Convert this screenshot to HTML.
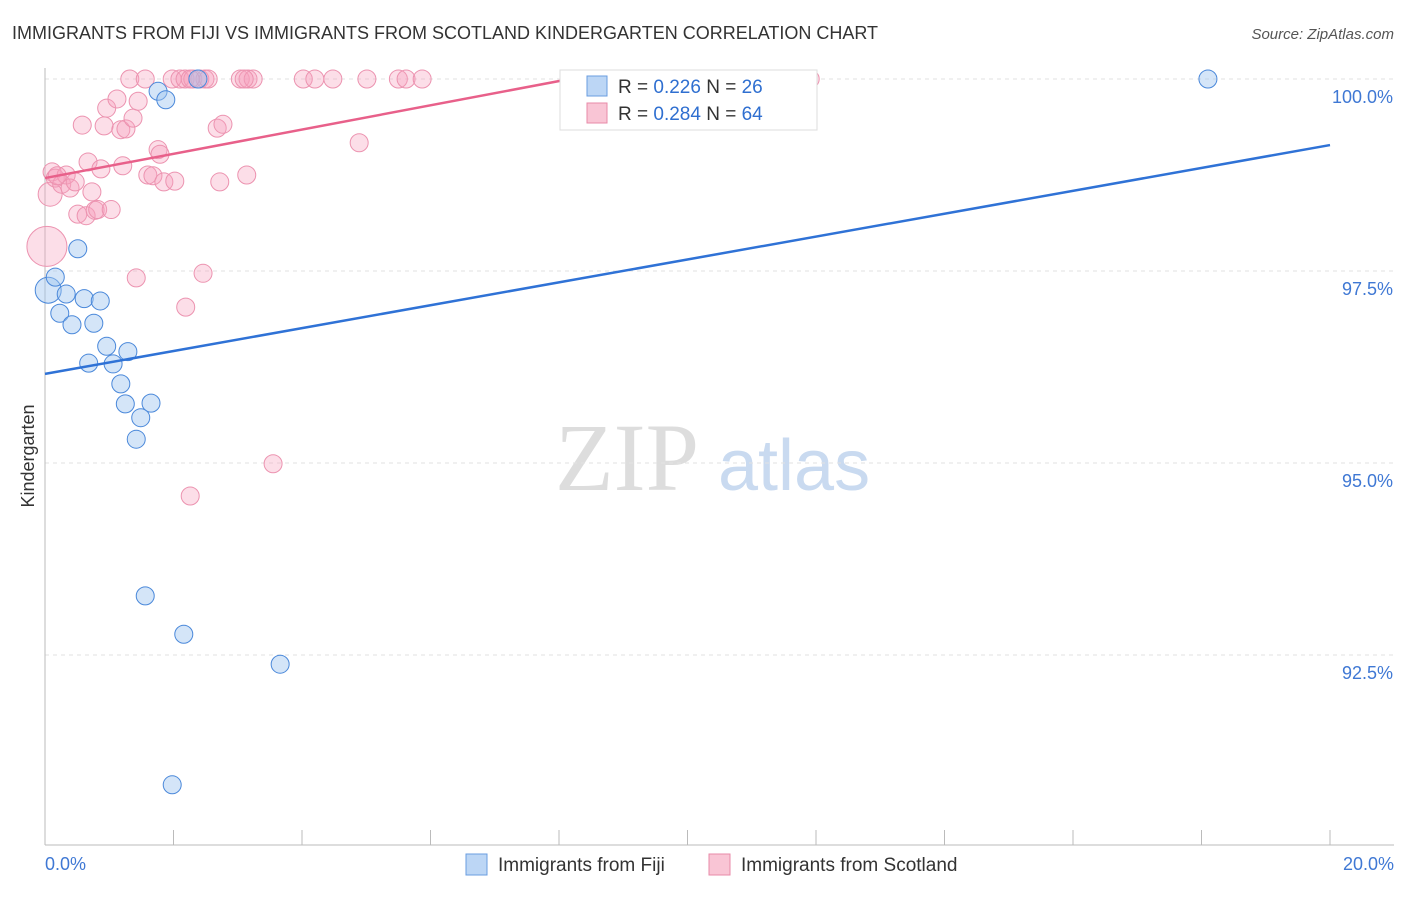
<!DOCTYPE html>
<html><head><meta charset="utf-8"><style>
body{margin:0;background:#fff;font-family:"Liberation Sans",sans-serif;}
</style></head><body>
<svg width="1406" height="892" xmlns="http://www.w3.org/2000/svg" id="chart">
<text x="12" y="39" font-size="18" fill="#333">IMMIGRANTS FROM FIJI VS IMMIGRANTS FROM SCOTLAND KINDERGARTEN CORRELATION CHART</text>
<text x="1394" y="39" font-size="15" fill="#555" font-style="italic" text-anchor="end">Source: ZipAtlas.com</text>
<text x="555" y="490" font-size="96" fill="#ddd" font-family="Liberation Serif">ZIP</text>
<text x="718" y="490" font-size="72" fill="#c9daf0">atlas</text>
<text x="34" y="456" font-size="18" fill="#333" transform="rotate(-90 34 456)" text-anchor="middle">Kindergarten</text>
<g id="grid"></g><g id="ticks"></g><g id="pts"></g><g id="lines"></g>
<g>
<rect x="560" y="70" width="257" height="60" fill="#fff" stroke="#ddd"/>
<rect x="587" y="76" width="20" height="20" fill="#bcd6f5" stroke="#6a9de0"/>
<rect x="587" y="103" width="20" height="20" fill="#f9c5d5" stroke="#e88aa8"/>
<text x="618" y="93" font-size="19" fill="#333">R = <tspan fill="#2f6fd0">0.226</tspan>   N = <tspan fill="#2f6fd0">26</tspan></text>
<text x="618" y="120" font-size="19" fill="#333">R = <tspan fill="#2f6fd0">0.284</tspan>   N = <tspan fill="#2f6fd0">64</tspan></text>
</g>
<g>
<rect x="466" y="854" width="21" height="21" fill="#bcd6f5" stroke="#6a9de0"/>
<text x="498" y="871" font-size="19" fill="#333">Immigrants from Fiji</text>
<rect x="709" y="854" width="21" height="21" fill="#f9c5d5" stroke="#e88aa8"/>
<text x="741" y="871" font-size="19" fill="#333">Immigrants from Scotland</text>
</g>
</svg>
<script>
const fijiX=[0.05,0.16,0.23,0.33,0.42,0.61,0.76,0.86,0.51,0.68,0.96,1.06,1.29,1.18,1.25,1.65,1.49,1.42,1.76,1.88,2.38,1.56,2.16,3.66,1.98,18.10];
const fijiY=[97.25,97.42,96.95,97.20,96.80,97.14,96.82,97.11,97.79,96.30,96.52,96.29,96.45,96.03,95.77,95.78,95.59,95.31,99.84,99.73,100,93.27,92.77,92.38,90.81,100];
const fijiR=[13,9,9,9,9,9,9,9,9,9,9,9,9,9,9,9,9,9,9,9,9,9,9,9,9,9];
const scotX=[1.32,1.56,1.98,2.10,2.18,2.30,2.41,2.49,2.54,3.04,3.16,3.24,4.02,4.20,4.48,5.01,5.50,5.62,5.87,11.91,2.26,3.10,
0.08,0.11,0.16,0.26,0.33,0.39,0.47,0.19,0.51,0.64,0.73,0.78,0.82,1.03,0.58,0.67,0.87,0.92,0.96,1.12,1.18,1.26,1.37,1.45,1.21,1.60,1.68,1.76,1.79,1.85,2.02,2.19,2.46,1.42,2.26,2.68,2.77,2.72,3.14,3.55,4.89,0.03];
const scotY=[100,100,100,100,100,100,100,100,100,100,100,100,100,100,100,100,100,100,100,100,100,100,
98.50,98.79,98.71,98.63,98.75,98.58,98.66,98.74,98.24,98.22,98.53,98.29,98.30,98.30,99.40,98.92,98.83,99.39,99.62,99.74,99.34,99.35,99.49,99.71,98.87,98.75,98.74,99.08,99.02,98.66,98.67,97.03,97.47,97.41,94.57,99.36,99.41,98.66,98.75,94.99,99.17,97.82];
const scotR=[9,9,9,9,9,9,9,9,9,9,9,9,9,9,9,9,9,9,9,9,9,9,12,9,9,9,9,9,9,9,9,9,9,9,9,9,9,9,9,9,9,9,9,9,9,9,9,9,9,9,9,9,9,9,9,9,9,9,9,9,9,9,9,20];
const yTicks=[100,97.5,95,92.5];
const yTickLabels=["100.0%","97.5%","95.0%","92.5%"];
const xTickLabels=["0.0%","20.0%"];
const fijiLine=[96.16,99.14];
const scotLine=[98.71,100];
const scotLineEnd=8.17;
const X=v=>45+v/20*1285, Y=v=>79+(100-v)*76.8;
const NS="http://www.w3.org/2000/svg";
function mk(t,a,p){const e=document.createElementNS(NS,t);for(const k in a)e.setAttribute(k,a[k]);document.getElementById(p).appendChild(e);return e;}
yTicks.forEach((t,i)=>{
 const g=mk('line',{x1:45,x2:1394,y1:Y(t),y2:Y(t),stroke:'#e2e2e2','stroke-dasharray':'4,4'},'grid');
 
 
 const l=mk('text',{x:1393,y:Y(t)+24,'font-size':18,fill:'#3f78d4','text-anchor':'end'},'ticks');l.textContent=yTickLabels[i];
 
 
});
const ax=mk('line',{x1:45,x2:45,y1:68,y2:845,stroke:'#bbb'},'ticks');


const bx=mk('line',{x1:45,x2:1394,y1:845,y2:845,stroke:'#bbb'},'ticks');


for(let i=0;i<=10;i++){const t=mk('line',{x1:X(i*2),x2:X(i*2),y1:830,y2:845,stroke:'#bbb'},'ticks');
 
 }
const xl0=mk('text',{x:45,y:870,'font-size':18,fill:'#3f78d4'},'ticks');xl0.textContent=xTickLabels[0];


const xl1=mk('text',{x:1394,y:870,'font-size':18,fill:'#3f78d4','text-anchor':'end'},'ticks');xl1.textContent=xTickLabels[1];


scotX.forEach((v,i)=>{const c=mk('circle',{cx:X(v),cy:Y(scotY[i]),r:scotR[i],fill:'rgba(246,160,188,0.35)',stroke:'#ec93b0','stroke-width':1},'pts');
 
 });
fijiX.forEach((v,i)=>{const c=mk('circle',{cx:X(v),cy:Y(fijiY[i]),r:fijiR[i],fill:'rgba(160,198,240,0.45)',stroke:'#4a88da','stroke-width':1},'pts');
 
 });
const fl=mk('line',{x1:X(0),y1:Y(fijiLine[0]),x2:X(20),y2:Y(fijiLine[1]),stroke:'#2f72d6','stroke-width':2.5},'lines');


const sl=mk('line',{x1:X(0),y1:Y(scotLine[0]),x2:X(scotLineEnd),y2:Y(scotLine[1]),stroke:'#e8608a','stroke-width':2.5},'lines');


</script>
</body></html>
